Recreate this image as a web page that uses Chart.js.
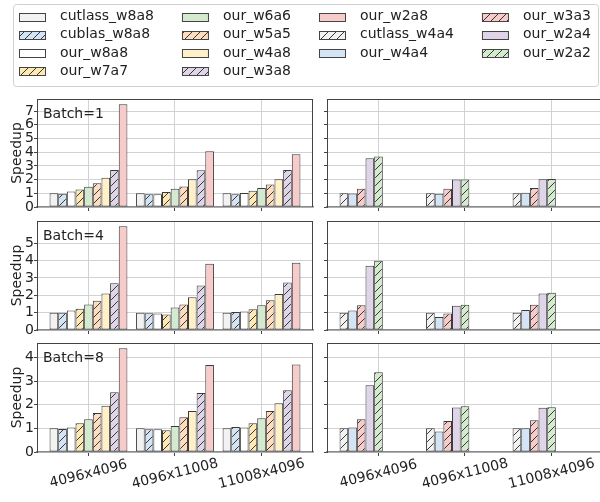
<!DOCTYPE html>
<html>
<head>
<meta charset="utf-8">
<script src="https://cdn.jsdelivr.net/npm/chart.js@4.4.1/dist/chart.umd.min.js"></script>
<style>
  html, body { margin: 0; padding: 0; background: #fff; overflow: hidden; }
  body { width: 600px; height: 502px; position: relative; }
  canvas { position: absolute; }
</style>
</head>
<body>
<script>
const shapes = ['4096x4096', '4096x11008', '11008x4096'];
const w8Labels = ['cutlass_w8a8', 'cublas_w8a8', 'our_w8a8', 'our_w7a7', 'our_w6a6',
                  'our_w5a5', 'our_w4a8', 'our_w3a8', 'our_w2a8'];
const w4Labels = ['cutlass_w4a4', 'our_w4a4', 'our_w3a3', 'our_w2a4', 'our_w2a2'];
const batches = [1, 4, 8];

// speedup, one row per series, one value per shape
const batch1W8 = [
  [1.00, 1.00, 1.00],
  [0.96, 0.94, 0.93],
  [1.14, 0.94, 1.02],
  [1.28, 1.09, 1.19],
  [1.48, 1.33, 1.38],
  [1.74, 1.50, 1.65],
  [2.13, 2.03, 2.03],
  [2.71, 2.69, 2.71],
  [7.51, 4.07, 3.85],
];
const batch1W4 = [
  [1.00, 1.00, 1.00],
  [0.99, 0.97, 1.04],
  [1.33, 1.33, 1.38],
  [3.56, 2.00, 2.03],
  [3.68, 2.00, 2.05],
];
const batch4W8 = [
  [1.00, 1.00, 1.00],
  [1.00, 0.96, 1.04],
  [1.12, 0.95, 1.06],
  [1.22, 0.90, 1.20],
  [1.47, 1.30, 1.43],
  [1.69, 1.47, 1.71],
  [2.10, 1.88, 2.08],
  [2.70, 2.57, 2.74],
  [5.98, 3.82, 3.87],
];
const batch4W4 = [
  [1.00, 1.00, 1.00],
  [1.12, 0.75, 1.15],
  [1.43, 0.95, 1.45],
  [3.70, 1.40, 2.10],
  [3.99, 1.45, 2.15],
];
const batch8W8 = [
  [1.00, 1.00, 1.00],
  [0.97, 0.96, 1.06],
  [1.04, 0.96, 1.04],
  [1.22, 0.92, 1.22],
  [1.39, 1.10, 1.43],
  [1.65, 1.47, 1.73],
  [1.96, 1.73, 2.06],
  [2.53, 2.49, 2.61],
  [4.39, 3.68, 3.70],
];
const batch8W4 = [
  [1.00, 1.00, 1.00],
  [1.04, 0.87, 1.00],
  [1.38, 1.31, 1.34],
  [2.82, 1.88, 1.87],
  [3.37, 1.93, 1.89],
];
const yTickMax = [7, 5, 4];

// styles
const w8Colors = ['#f2f2f2', '#d5e4f5', '#ffffff', '#fde8b6', '#d4eacf', '#fddcbf', '#fff0c8', '#e0d5e8', '#f8cbcb'];
const w8Hatch = [false, true, false, true, false, true, false, true, false];
const w4Colors = ['#f2f2f2', '#d5e4f5', '#f8cbcb', '#e0d5e8', '#d4eacf'];
const w4Hatch = [true, false, true, false, true];

Chart.defaults.font.family = "'DejaVu Sans', sans-serif";
Chart.defaults.color = '#222';

const makeHatch = (color) => {
  const c = document.createElement('canvas');
  c.width = 8; c.height = 8;
  const g = c.getContext('2d');
  g.fillStyle = color;
  g.fillRect(0, 0, 8, 8);
  g.strokeStyle = '#222';
  g.lineWidth = 0.9;
  g.beginPath();
  g.moveTo(0, 8); g.lineTo(8, 0);
  g.moveTo(-1, 1); g.lineTo(1, -1);
  g.moveTo(7, 9); g.lineTo(9, 7);
  g.stroke();
  return g.createPattern(c, 'repeat');
};
const fillFor = (color, hatched) => hatched ? makeHatch(color) : color;

const addCanvas = (left, top, w, h) => {
  const c = document.createElement('canvas');
  c.width = w; c.height = h;
  c.style.left = left + 'px';
  c.style.top = top + 'px';
  document.body.appendChild(c);
  return c.getContext('2d');
};

// legend
const legendPlugin = {
  id: 'boxLegend',
  afterDraw(chart) {
    const ctx = chart.ctx;
    const ds = chart.data.datasets;
    const colCounts = [4, 4, 3, 3];
    ctx.save();
    ctx.font = "14px 'DejaVu Sans'";
    ctx.strokeStyle = '#d0d0d0';
    ctx.lineWidth = 1;
    ctx.beginPath();
    ctx.roundRect(13.5, 4.5, 585, 82, 3);
    ctx.stroke();
    let idx = 0;
    let x = 19;
    colCounts.forEach((n) => {
      let maxW = 0;
      for (let r = 0; r < n; r++) {
        const d = ds[idx + r];
        const y = 16.5 + r * 18.2;
        ctx.fillStyle = d.backgroundColor;
        ctx.fillRect(x, Math.round(y - 4), 27, 8);
        ctx.strokeStyle = '#444';
        ctx.strokeRect(x + 0.5, Math.round(y - 4) + 0.5, 26, 8);
        ctx.fillStyle = '#222';
        ctx.textBaseline = 'middle';
        ctx.fillText(d.label, x + 41, y);
        maxW = Math.max(maxW, ctx.measureText(d.label).width);
      }
      idx += n;
      x += 41 + maxW + 28;
    });
    ctx.restore();
  }
};

const legendSets = w8Labels.map((l, i) => ({ label: l, data: [], backgroundColor: fillFor(w8Colors[i], w8Hatch[i]) }))
  .concat(w4Labels.map((l, i) => ({ label: l, data: [], backgroundColor: fillFor(w4Colors[i], w4Hatch[i]) })));

new Chart(addCanvas(0, 0, 600, 92), {
  type: 'bar',
  data: { labels: [], datasets: legendSets },
  options: {
    responsive: false, animation: false,
    plugins: { legend: { display: false }, tooltip: { enabled: false } },
    scales: { x: { display: false }, y: { display: false } },
  },
  plugins: [legendPlugin],
});

// panels
const framePlugin = {
  id: 'frame',
  afterDraw(chart, args, opts) {
    const { ctx, chartArea: a } = chart;
    ctx.save();
    ctx.strokeStyle = '#444';
    ctx.lineWidth = 1;
    ctx.beginPath();
    ctx.moveTo(Math.round(a.left), Math.round(a.top) + 0.5);
    ctx.lineTo(Math.round(a.right), Math.round(a.top) + 0.5);
    ctx.moveTo(Math.round(a.right) - 0.5, Math.round(a.top));
    ctx.lineTo(Math.round(a.right) - 0.5, Math.round(a.bottom));
    ctx.stroke();
    ctx.fillStyle = '#222';
    ctx.font = "14px 'DejaVu Sans'";
    if (opts.batch) {
      ctx.textBaseline = 'alphabetic';
      ctx.textAlign = 'left';
      ctx.fillText('Batch=' + opts.batch, a.left + 6, a.top + 19);
    }
    if (opts.xLabels) {
      const xs = chart.scales.x;
      ctx.textAlign = 'center';
      ctx.textBaseline = 'middle';
      shapes.forEach((s, i) => {
        ctx.save();
        ctx.translate(xs.getPixelForValue(i), a.bottom + 22);
        ctx.rotate(-14 * Math.PI / 180);
        ctx.fillText(s, 0, 0);
        ctx.restore();
      });
    }
    ctx.restore();
  }
};

const rowTops = [99, 221, 343];
const rowBottoms = [207, 330, 452];
const rowsW8 = [batch1W8, batch4W8, batch8W8];
const rowsW4 = [batch1W4, batch4W4, batch8W4];

const makePanel = (r, isLeft) => {
  const top = rowTops[r] - 10;
  const last = r === 2;
  const h = last ? 502 - top : rowBottoms[r] - rowTops[r] + 20;
  const xH = last ? 50 : 6;
  const allVals = rowsW8[r].concat(rowsW4[r]).flat();
  const yMax = Math.max(...allVals) * 1.05;
  const vals = isLeft ? rowsW8[r] : rowsW4[r];
  const labels = isLeft ? w8Labels : w4Labels;
  const colors = isLeft ? w8Colors : w4Colors;
  const hatch = isLeft ? w8Hatch : w4Hatch;
  const datasets = vals.map((v, i) => ({
    label: labels[i],
    data: v.map((y, k) => ({ x: k, y })),
    backgroundColor: fillFor(colors[i], hatch[i]),
    borderColor: '#3a3a3a',
    borderWidth: 1,
    borderSkipped: false,
  }));
  // right panels keep the same 9 slot positions
  while (datasets.length < w8Labels.length) datasets.push({ label: '', data: [] });

  const ctx = isLeft ? addCanvas(0, top, 320, h) : addCanvas(320, top, 290, h);
  new Chart(ctx, {
    type: 'bar',
    data: { datasets },
    options: {
      responsive: false, animation: false,
      layout: { padding: { top: 10, bottom: last ? 0 : 4, left: 0, right: 7 } },
      datasets: { bar: { categoryPercentage: 0.9, barPercentage: 1.0 } },
      plugins: {
        legend: { display: false }, tooltip: { enabled: false },
        frame: { batch: isLeft ? batches[r] : null, xLabels: last },
      },
      scales: {
        x: {
          type: 'linear', min: -0.595, max: 2.595, offset: false,
          afterBuildTicks: (ax) => { ax.ticks = shapes.map((s, i) => ({ value: i })); },
          ticks: { display: false },
          grid: { offset: false, color: '#d2d2d2', tickLength: 4, tickColor: '#444' },
          border: { color: '#8a8a8a', width: 1.5 },
          afterFit: (ax) => { ax.height = xH; },
        },
        y: {
          min: 0, max: yMax,
          afterBuildTicks: (ax) => {
            const t = [];
            for (let v = 0; v <= yTickMax[r]; v++) t.push({ value: v });
            ax.ticks = t;
          },
          ticks: { display: isLeft, autoSkip: false, font: { size: 14 }, color: '#222', padding: 0 },
          grid: { color: '#d2d2d2', tickLength: 3, tickColor: '#444' },
          border: { color: '#444', width: 1 },
          title: { display: isLeft, text: 'Speedup', font: { size: 14 }, color: '#222', padding: { top: 9, bottom: 0 } },
          afterFit: (ax) => { ax.width = isLeft ? 37 : 7; },
        },
      },
    },
    plugins: [framePlugin],
  });
};

for (let r = 0; r < 3; r++) {
  makePanel(r, true);
  makePanel(r, false);
}
</script>
</body>
</html>
